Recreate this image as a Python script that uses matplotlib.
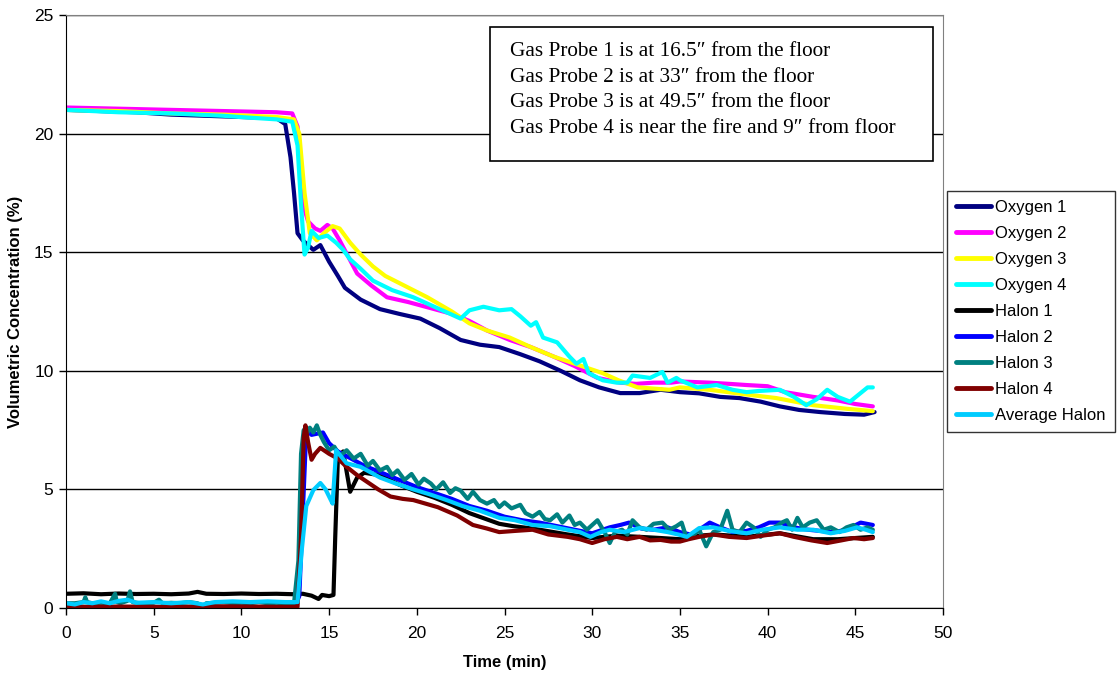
import matplotlib
matplotlib.use("Agg")
import matplotlib.pyplot as plt
from matplotlib.patches import Rectangle

plt.rcParams['font.family'] = ['Liberation Sans', 'DejaVu Sans']

# (time in min, volumetric concentration in %)
oxygen1 = [(0, 21.0), (2, 20.95), (4, 20.9), (6, 20.8), (8, 20.75), (10, 20.7), (12, 20.65),
           (12.5, 20.4), (12.8, 19.0), (13.0, 17.5), (13.2, 15.8), (13.5, 15.5), (13.8, 15.3),
           (14.1, 15.1), (14.5, 15.3), (15.0, 14.6), (15.5, 14.0), (15.9, 13.5), (16.8, 13.0),
           (17.9, 12.6), (19.0, 12.4), (20.2, 12.2), (21.3, 11.8), (22.5, 11.3), (23.6, 11.1),
           (24.7, 11.0), (25.9, 10.7), (27.0, 10.4), (28.2, 10.0), (29.3, 9.6), (30.4, 9.3),
           (31.6, 9.06), (32.7, 9.06), (33.9, 9.2), (35.0, 9.1), (36.1, 9.05), (37.3, 8.9),
           (38.4, 8.85), (39.6, 8.7), (40.7, 8.5), (41.8, 8.35), (43.0, 8.26), (44.4, 8.18),
           (45.5, 8.15), (46.1, 8.26)]
oxygen2 = [(0, 21.1), (3, 21.05), (6, 21.0), (9, 20.95), (12, 20.9), (12.9, 20.85), (13.2, 20.3),
           (13.4, 18.5), (13.6, 16.8), (13.8, 16.3), (14.2, 16.0), (14.5, 15.9), (14.9, 16.15),
           (15.2, 16.0), (15.6, 15.5), (16.1, 14.8), (16.6, 14.1), (17.4, 13.6), (18.3, 13.1),
           (19.5, 12.9), (20.5, 12.7), (22, 12.4), (23, 12.1), (24, 11.7), (25.3, 11.3),
           (26.5, 11.0), (27.8, 10.6), (29, 10.2), (30.3, 9.7), (31.6, 9.5), (32.5, 9.45),
           (33.5, 9.5), (34.5, 9.5), (35, 9.55), (36.7, 9.5), (37.8, 9.45), (38.8, 9.4),
           (40, 9.35), (41, 9.1), (42.6, 8.9), (44, 8.75), (45, 8.6), (46, 8.5)]
oxygen3 = [(0, 21.0), (3, 20.95), (6, 20.85), (9, 20.8), (12, 20.7), (13.0, 20.6), (13.3, 20.0),
           (13.6, 17.5), (13.9, 15.8), (14.3, 15.5), (14.7, 15.8), (15.2, 16.1), (15.6, 16.0),
           (16.2, 15.4), (16.8, 14.9), (17.5, 14.4), (18.2, 14.0), (19, 13.7), (20.6, 13.1),
           (22, 12.5), (23, 12.0), (24, 11.7), (25.3, 11.4), (26.5, 11.0), (27.8, 10.6),
           (29, 10.3), (30.6, 9.9), (31.5, 9.6), (32.6, 9.3), (33.5, 9.25), (34.4, 9.2),
           (35, 9.3), (36.7, 9.2), (38.8, 9.0), (40.5, 8.85), (42.6, 8.55), (44.5, 8.4), (46, 8.3)]
oxygen4 = [(0, 21.0), (3, 20.9), (6, 20.85), (9, 20.75), (9.9, 20.7), (12, 20.6), (12.9, 20.5),
           (13.2, 19.5), (13.4, 17.0), (13.6, 14.9), (13.8, 15.2), (14.0, 15.9), (14.4, 15.6),
           (14.9, 15.7), (15.4, 15.4), (15.8, 15.1), (16.2, 14.7), (16.8, 14.3), (17.5, 13.8),
           (18.6, 13.4), (19.8, 13.1), (21.3, 12.6), (22.5, 12.2), (23.0, 12.55), (23.8, 12.7),
           (24.7, 12.55), (25.4, 12.6), (25.9, 12.3), (26.5, 11.9), (26.8, 12.05), (27.2, 11.4),
           (28.0, 11.2), (28.7, 10.6), (29.1, 10.3), (29.5, 10.5), (29.8, 9.9), (30.6, 9.6),
           (31.4, 9.5), (32.0, 9.5), (32.3, 9.8), (33.3, 9.7), (34.0, 9.95), (34.3, 9.5),
           (34.8, 9.7), (35.0, 9.6), (36.0, 9.3), (37.1, 9.4), (38.0, 9.2), (38.8, 9.1),
           (39.5, 9.15), (40.7, 9.2), (41.5, 8.9), (42.2, 8.55), (42.8, 8.8), (43.4, 9.2),
           (44.0, 8.9), (44.7, 8.7), (45.2, 9.0), (45.7, 9.3), (46.0, 9.3)]

halon1 = [(0, 0.6), (1, 0.62), (2, 0.58), (3, 0.61), (4, 0.59), (5, 0.6), (6, 0.58), (7, 0.61),
          (7.5, 0.68), (8, 0.6), (9, 0.59), (10, 0.61), (11, 0.59), (12, 0.6), (13, 0.58),
          (13.5, 0.6), (14.0, 0.52), (14.4, 0.38), (14.6, 0.55), (15.0, 0.5), (15.25, 0.55),
          (15.35, 3.0), (15.5, 6.3), (15.8, 6.6), (16.2, 4.9), (16.6, 5.5), (17.0, 5.7),
          (17.9, 5.6), (19, 5.2), (20, 4.9), (21, 4.65), (22, 4.35), (23, 4.0), (24.7, 3.55),
          (25.5, 3.45), (26.6, 3.35), (28.6, 3.1), (30, 2.95), (31.4, 3.05), (32.7, 3.0),
          (33.9, 2.95), (35, 2.9), (36.1, 3.05), (37, 3.1), (38.8, 3.0), (40.7, 3.15),
          (42.6, 2.9), (44, 2.9), (45, 2.95), (46, 3.0)]
halon2 = [(0, 0.0), (5, 0.02), (10, 0.0), (13.0, 0.0), (13.3, 0.5), (13.5, 4.0), (13.7, 7.5),
          (14.0, 7.3), (14.65, 7.4), (15.0, 6.95), (15.5, 6.6), (16, 6.4), (17, 6.0), (18, 5.7),
          (19, 5.4), (20, 5.1), (21, 4.85), (22, 4.6), (23, 4.3), (24, 4.1), (25, 3.85),
          (26, 3.7), (27, 3.6), (28, 3.45), (29, 3.3), (30, 3.15), (31.0, 3.4), (31.6, 3.5),
          (32.1, 3.6), (32.8, 3.35), (33.5, 3.3), (34.3, 3.4), (35, 3.2), (35.6, 3.1),
          (36.1, 3.3), (36.7, 3.6), (37.3, 3.4), (38, 3.2), (38.8, 3.25), (39.5, 3.4),
          (40.1, 3.6), (40.7, 3.6), (41.5, 3.4), (42.3, 3.3), (43, 3.25), (43.8, 3.2),
          (44.5, 3.3), (45.3, 3.6), (46, 3.5)]
halon3 = [(0, 0.2), (0.5, 0.2), (1.0, 0.25), (1.1, 0.45), (1.2, 0.25), (1.5, 0.2), (2.0, 0.22),
          (2.5, 0.2), (2.8, 0.6), (2.9, 0.25), (3.1, 0.2), (3.5, 0.3), (3.65, 0.7), (3.8, 0.25),
          (4.2, 0.2), (5, 0.22), (5.3, 0.35), (5.5, 0.2), (6, 0.22), (6.5, 0.2), (7, 0.25),
          (7.5, 0.2), (7.8, 0.0), (8.0, 0.2), (8.5, 0.22), (9, 0.25), (9.5, 0.2), (10, 0.22),
          (10.5, 0.2), (11, 0.25), (11.5, 0.2), (12, 0.22), (12.5, 0.2), (13.0, 0.2),
          (13.25, 2.0), (13.4, 6.5), (13.55, 7.5), (13.7, 7.3), (13.9, 7.6), (14.1, 7.4),
          (14.3, 7.7), (14.5, 7.3), (14.7, 7.0), (15.0, 6.65), (15.3, 6.8), (15.6, 6.4),
          (16.0, 6.65), (16.4, 6.3), (16.8, 6.5), (17.2, 6.0), (17.5, 6.2), (17.9, 5.8),
          (18.3, 5.95), (18.6, 5.6), (18.9, 5.8), (19.3, 5.4), (19.7, 5.65), (20.1, 5.2),
          (20.4, 5.45), (20.8, 5.25), (21.1, 5.0), (21.5, 5.3), (21.9, 4.85), (22.2, 5.05),
          (22.5, 4.95), (22.9, 4.6), (23.2, 4.9), (23.6, 4.55), (24.0, 4.4), (24.4, 4.55),
          (24.7, 4.25), (25.0, 4.45), (25.4, 4.2), (25.9, 4.35), (26.2, 4.0), (26.6, 3.85),
          (27.0, 4.05), (27.3, 3.75), (27.6, 3.7), (28.0, 3.95), (28.3, 3.6), (28.7, 3.9),
          (29.0, 3.5), (29.3, 3.6), (29.7, 3.3), (30.0, 3.5), (30.3, 3.7), (30.7, 3.2),
          (31.0, 2.74), (31.3, 3.2), (31.7, 3.3), (32.0, 3.1), (32.3, 3.7), (32.7, 3.4),
          (33.1, 3.3), (33.5, 3.55), (34.0, 3.6), (34.4, 3.3), (34.8, 3.45), (35.1, 3.6),
          (35.4, 2.9), (35.8, 3.1), (36.1, 3.3), (36.5, 2.6), (36.9, 3.2), (37.3, 3.3),
          (37.7, 4.1), (38.0, 3.3), (38.4, 3.2), (38.8, 3.6), (39.2, 3.4), (39.6, 3.0),
          (40.0, 3.3), (40.4, 3.4), (40.8, 3.6), (41.1, 3.7), (41.4, 3.3), (41.7, 3.8),
          (42.0, 3.4), (42.4, 3.6), (42.8, 3.7), (43.2, 3.3), (43.6, 3.4), (44.1, 3.2),
          (44.5, 3.4), (44.9, 3.5), (45.3, 3.3), (45.7, 3.4), (46.0, 3.3)]
halon4 = [(0, 0.05), (3, 0.06), (6, 0.05), (9, 0.07), (12, 0.05), (13.2, 0.05), (13.4, 3.0),
          (13.55, 7.2), (13.65, 7.7), (13.8, 7.0), (14.0, 6.25), (14.2, 6.5), (14.5, 6.75),
          (14.8, 6.6), (15.0, 6.5), (15.5, 6.3), (16.0, 5.95), (16.6, 5.6), (17.2, 5.3),
          (17.8, 5.0), (18.5, 4.7), (19.2, 4.6), (19.8, 4.55), (20.5, 4.4), (21.2, 4.25),
          (22.3, 3.9), (23.2, 3.5), (24.0, 3.35), (24.7, 3.2), (25.6, 3.25), (26.6, 3.3),
          (27.5, 3.1), (28.6, 3.0), (29.3, 2.9), (30, 2.74), (30.7, 2.9), (31.4, 3.0),
          (32.0, 2.9), (32.7, 3.0), (33.3, 2.85), (33.9, 2.87), (34.5, 2.8), (35, 2.8),
          (35.5, 2.9), (36.1, 3.0), (36.9, 3.1), (37.8, 3.0), (38.8, 2.95), (39.7, 3.05),
          (40.7, 3.15), (41.5, 3.0), (42.5, 2.85), (43.4, 2.74), (44.2, 2.85), (44.9, 2.95),
          (45.5, 2.9), (46, 2.95)]
halon_avg = [(0, 0.2), (0.5, 0.15), (1, 0.25), (1.5, 0.2), (2, 0.28), (2.5, 0.2), (3, 0.3),
             (3.5, 0.35), (4, 0.22), (5, 0.25), (6, 0.2), (7, 0.25), (7.8, 0.15), (8.5, 0.25),
             (9.5, 0.28), (10.5, 0.25), (11.5, 0.28), (12.5, 0.25), (13.2, 0.25), (13.45, 2.5),
             (13.7, 4.3), (14.1, 4.97), (14.5, 5.27), (14.8, 5.0), (15.0, 4.7), (15.2, 4.4),
             (15.4, 6.65), (16.0, 6.1), (16.8, 5.95), (17.9, 5.5), (18.8, 5.25), (19.8, 5.0),
             (20.7, 4.8), (21.7, 4.55), (22.6, 4.3), (23.6, 4.1), (24.7, 3.8), (25.6, 3.7),
             (26.6, 3.5), (27.6, 3.45), (28.6, 3.3), (29.3, 3.2), (29.9, 3.0), (30.5, 3.2),
             (31, 3.3), (31.8, 3.2), (32.7, 3.37), (33.5, 3.3), (34.3, 3.2), (34.9, 3.1),
             (35.4, 3.0), (36.1, 3.37), (36.9, 3.4), (37.8, 3.25), (38.8, 3.15), (39.7, 3.3),
             (40.7, 3.4), (41.7, 3.3), (42.6, 3.3), (43.6, 3.15), (44.4, 3.25), (45.1, 3.4),
             (45.6, 3.3), (46, 3.2)]

series = [
    ("Oxygen 1", oxygen1, "#000080"),
    ("Oxygen 2", oxygen2, "#FF00FF"),
    ("Oxygen 3", oxygen3, "#FFFF00"),
    ("Oxygen 4", oxygen4, "#00FFFF"),
    ("Halon 1", halon1, "#000000"),
    ("Halon 2", halon2, "#0000FF"),
    ("Halon 3", halon3, "#008080"),
    ("Halon 4", halon4, "#800000"),
    ("Average Halon", halon_avg, "#00CCFF"),
]

probe_notes = [
    "Gas Probe 1 is at 16.5\u2033 from the floor",
    "Gas Probe 2 is at 33\u2033 from the floor",
    "Gas Probe 3 is at 49.5\u2033 from the floor",
    "Gas Probe 4 is near the fire and 9\u2033 from floor",
]

fig = plt.figure(figsize=(11.17, 6.75), dpi=100)
ax = fig.add_axes([66 / 1117, 67 / 675, 877 / 1117, 593 / 675])

lines = []
for name, pts, color in series:
    t = [p[0] for p in pts]
    v = [p[1] for p in pts]
    ln, = ax.plot(t, v, color=color, lw=3, label=name,
                  solid_joinstyle='round', solid_capstyle='round')
    lines.append(ln)

ax.set_xlim(0, 50)
ax.set_ylim(0, 25)
ax.set_xticks(range(0, 51, 5))
ax.set_yticks(range(0, 26, 5))
ax.yaxis.grid(True, color='black', lw=1)
ax.set_axisbelow(True)
ax.tick_params(direction='out', length=5, width=1, labelsize=12.5)
ax.tick_params(axis='x', pad=8)
ax.tick_params(axis='y', pad=4)
for s in ('top', 'right'):
    ax.spines[s].set_color('#808080')
for s in ('left', 'bottom'):
    ax.spines[s].set_color('black')

ax.set_xlabel("Time (min)", fontsize=12, fontweight='bold', labelpad=10)
ax.set_ylabel("Volumetric Concentration (%)", fontsize=12, fontweight='bold', labelpad=8)

leg = fig.legend(handles=lines, loc='upper left', bbox_to_anchor=(947 / 1117, 1 - 191 / 675),
                 fontsize=12, frameon=True, fancybox=False, edgecolor='black',
                 handlelength=2.1, handletextpad=0.25, labelspacing=0.66, borderpad=0.55,
                 borderaxespad=0)
leg.get_frame().set_linewidth(1)
for h in leg.legend_handles:
    h.set_linewidth(3.5)

fig.patches.append(Rectangle((490 / 1117, 1 - 161 / 675), 443 / 1117, 134 / 675,
                             transform=fig.transFigure, facecolor='white',
                             edgecolor='black', lw=1.2, zorder=5))
fig.text(510 / 1117, 1 - 42 / 675, "\n".join(probe_notes), family='Liberation Serif',
         fontsize=15.3, va='top', ha='left', linespacing=1.47, zorder=6)

fig.savefig("out.png", dpi=100)
